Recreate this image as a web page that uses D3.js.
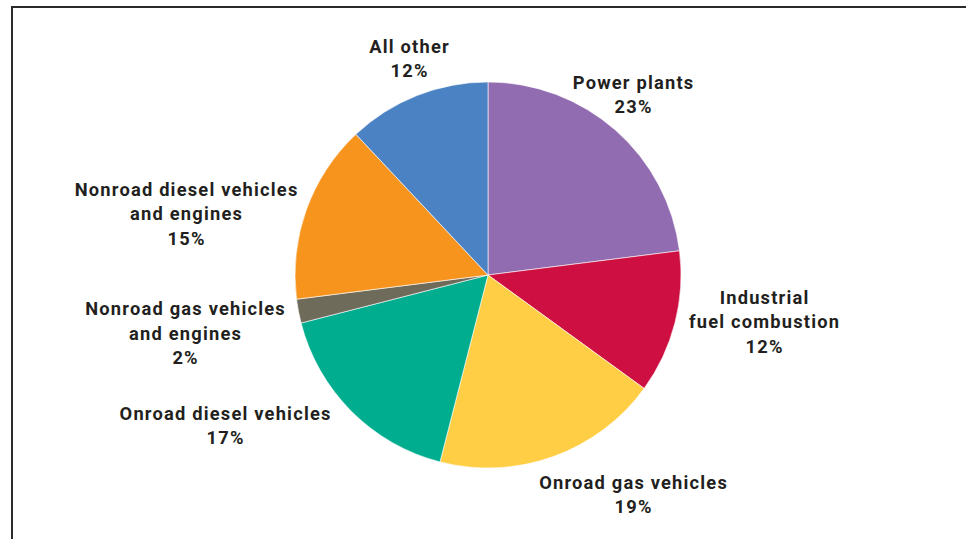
<!DOCTYPE html>
<html>
<head>
<meta charset="utf-8">
<script src="https://cdn.jsdelivr.net/npm/d3@7/dist/d3.min.js"></script>
<style>
  html, body { margin: 0; padding: 0; background: #fff; }
  svg { display: block; }
  text { font-family: Roboto, "Open Sans", sans-serif; font-weight: 700; fill: #231f20; }
</style>
</head>
<body>
<svg id="chart" width="966" height="539"></svg>
<script>
// Emission sources, clockwise from 12 o'clock
const categories = [
  "Power plants",
  "Industrial fuel combustion",
  "Onroad gas vehicles",
  "Onroad diesel vehicles",
  "Nonroad gas vehicles and engines",
  "Nonroad diesel vehicles and engines",
  "All other"
];
const shares = [23, 12, 19, 17, 2, 15, 12];
const labelLines = [
  ["Power plants"],
  ["Industrial", "fuel combustion"],
  ["Onroad gas vehicles"],
  ["Onroad diesel vehicles"],
  ["Nonroad gas vehicles", "and engines"],
  ["Nonroad diesel vehicles", "and engines"],
  ["All other"]
];
const colors = ["#926cb0", "#cd1041", "#ffce45", "#00ae8f", "#6e6b5b", "#f7941e", "#4a82c3"];

// Label block centres, relative to the pie centre
const labelOffsets = [
  [145, -180.5], [276, 47], [145, 219.5], [-263, 150.5], [-303, 58.5], [-302, -61], [-79, -216.5]
];

const svg = d3.select("#chart");
const cx = 488, cy = 275, r = 193;

// Frame: top and left rule
svg.append("path")
  .attr("d", "M12,539 V7 H966")
  .attr("fill", "none")
  .attr("stroke", "#2b2b2b")
  .attr("stroke-width", 2);

const pie = d3.pie().sort(null).value(d => d);
const arc = d3.arc().innerRadius(0).outerRadius(r);
const color = d3.scaleOrdinal().domain(categories).range(colors);

const g = svg.append("g").attr("transform", `translate(${cx},${cy})`);
const arcs = pie(shares);

g.selectAll("path.slice")
  .data(arcs)
  .join("path")
  .attr("class", "slice")
  .attr("d", arc)
  .attr("fill", (d, i) => color(categories[i]))
  .attr("stroke", "#fff")
  .attr("stroke-width", 0.6);

const lineH = 24.5;
const spacing = 1.2;
const labels = g.selectAll("text.label")
  .data(arcs)
  .join("text")
  .attr("class", "label")
  .attr("text-anchor", "middle")
  .attr("font-size", 18.3)
  .attr("letter-spacing", spacing);

labels.each(function(d, i) {
  const lines = labelLines[i].concat([shares[i] + "%"]);
  const [ox, oy] = labelOffsets[i];
  const top = oy - (lines.length - 1) * lineH / 2;
  d3.select(this).selectAll("tspan")
    .data(lines)
    .join("tspan")
    .attr("x", ox + spacing / 2)
    .attr("y", (l, k) => top + k * lineH)
    .attr("dy", "0.35em")
    .text(l => l);
});
</script>
</body>
</html>
